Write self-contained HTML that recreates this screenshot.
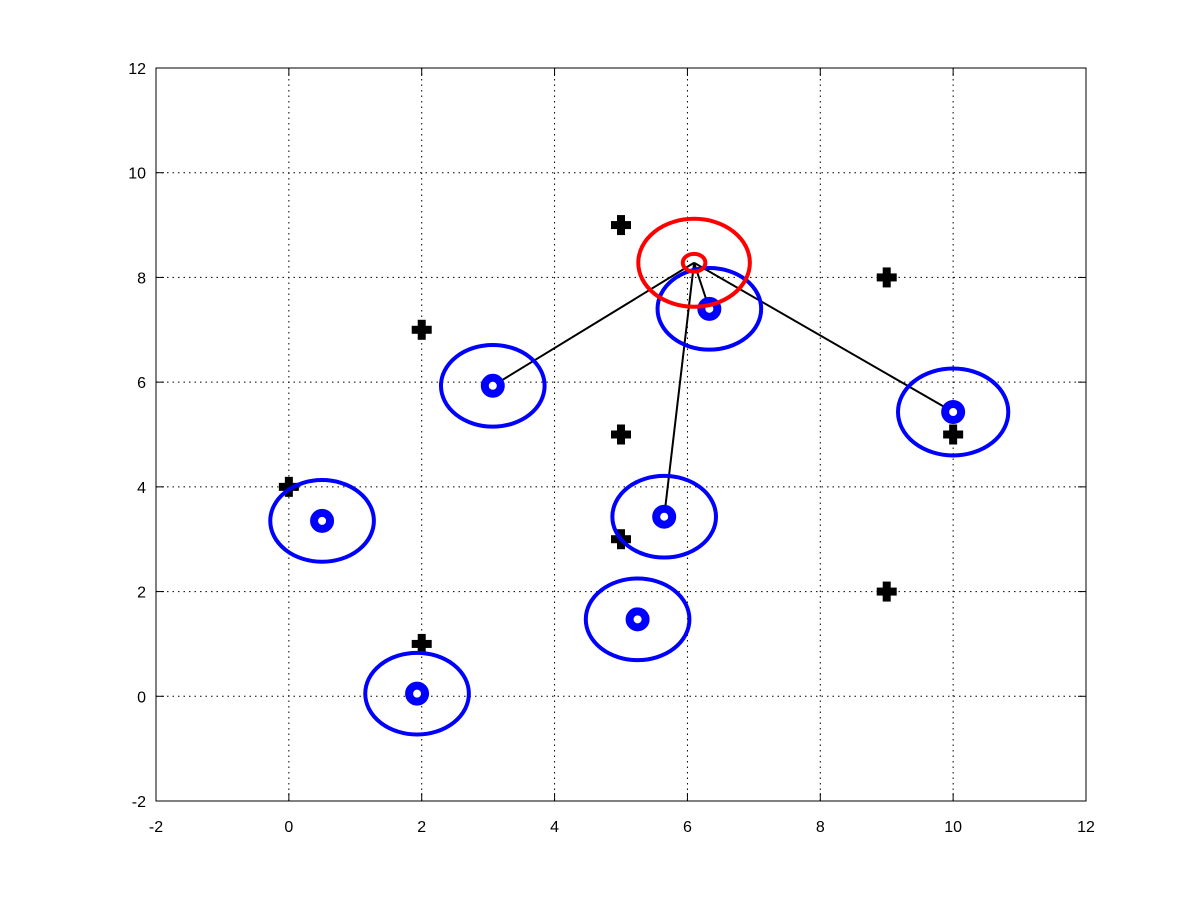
<!DOCTYPE html>
<html><head><meta charset="utf-8"><style>
body{margin:0;background:#fff}
svg{display:block;font-family:"Liberation Sans",sans-serif}
</style></head><body>
<svg id="chart" width="1200" height="900" xmlns="http://www.w3.org/2000/svg">
<rect width="1200" height="900" fill="#fff"/>
<g id="grid"></g>
<g id="ticks"></g>
<g id="marks"></g>
<rect x="156" y="68" width="930" height="733" fill="none" stroke="#000" stroke-width="1"/>
</svg>
<script>
const xTicks=[-2,0,2,4,6,8,10,12];
const yTicks=[-2,0,2,4,6,8,10,12];
const crossX=[5,9,2,5,10,0,5,9,2];
const crossY=[9,8,7,5,5,4,3,2,1];
const blueX=[3.07,0.5,1.93,5.25,5.65,6.33,10.0];
const blueY=[5.93,3.35,0.05,1.47,3.43,7.4,5.43];
const blueR=[0.78,0.78,0.78,0.78,0.78,0.78,0.83];
const redX=[6.1];
const redY=[8.28];
const redR=[0.84];
const redInnerR=[0.17];
const linkIdx=[0,4,5,6];
const NS="http://www.w3.org/2000/svg";
const sx=v=>156+(v+2)*930/14;
const sy=v=>801-(v+2)*733/14;
function mk(tag,attrs,parent){const e=document.createElementNS(NS,tag);for(const k in attrs)e.setAttribute(k,attrs[k]);parent.appendChild(e);return e;}
const grid=document.getElementById('grid'),ticks=document.getElementById('ticks'),marks=document.getElementById('marks');
xTicks.forEach(t=>{
 const l=mk('line',{x1:sx(t),x2:sx(t),y1:68,y2:801,stroke:'#000','stroke-dasharray':'1.5,4','stroke-width':1},grid);
 
 
 mk('line',{x1:sx(t),x2:sx(t),y1:801,y2:793,stroke:'#000'},ticks);
 mk('line',{x1:sx(t),x2:sx(t),y1:68,y2:76,stroke:'#000'},ticks);
 const tx=mk('text',{x:sx(t),y:832,'text-anchor':'middle','font-size':16},ticks);tx.textContent=t;
 
 
});
yTicks.forEach(t=>{
 const l=mk('line',{x1:156,x2:1086,y1:sy(t),y2:sy(t),stroke:'#000','stroke-dasharray':'1.5,4','stroke-width':1},grid);
 
 
 mk('line',{x1:156,x2:164,y1:sy(t),y2:sy(t),stroke:'#000'},ticks);
 mk('line',{x1:1086,x2:1078,y1:sy(t),y2:sy(t),stroke:'#000'},ticks);
 const tx=mk('text',{x:146,y:sy(t)+6,'text-anchor':'end','font-size':16},ticks);tx.textContent=t;
 
 
});
const kx=930/14,ky=733/14;
linkIdx.forEach(i=>{
 const l=mk('line',{x1:sx(redX[0]),y1:sy(redY[0]),x2:sx(blueX[i]),y2:sy(blueY[i]),stroke:'#000','stroke-width':2},marks);
 
 
});
crossX.forEach((x,i)=>{
 const cx=sx(x),cy=sy(crossY[i]);
 const g=mk('g',{},marks);
 
 
 mk('rect',{x:cx-10,y:cy-4,width:20,height:8,fill:'#000'},g);
 mk('rect',{x:cx-4,y:cy-10,width:8,height:20,fill:'#000'},g);
});
blueX.forEach((x,i)=>{
 const cx=sx(x),cy=sy(blueY[i]);
 const e=mk('ellipse',{cx:cx,cy:cy,rx:blueR[i]*kx,ry:blueR[i]*ky,fill:'none',stroke:'#0000ff','stroke-width':4},marks);
 
 
 const c=mk('circle',{cx:cx,cy:cy,r:8,fill:'#fff',stroke:'#0000ff','stroke-width':8},marks);
 
 
});
const r1=mk('ellipse',{cx:sx(redX[0]),cy:sy(redY[0]),rx:redR[0]*kx,ry:redR[0]*ky,fill:'none',stroke:'#ff0000','stroke-width':4},marks);


const r2=mk('ellipse',{cx:sx(redX[0]),cy:sy(redY[0]),rx:redInnerR[0]*kx,ry:redInnerR[0]*ky,fill:'none',stroke:'#ff0000','stroke-width':4},marks);


</script>
</body></html>
